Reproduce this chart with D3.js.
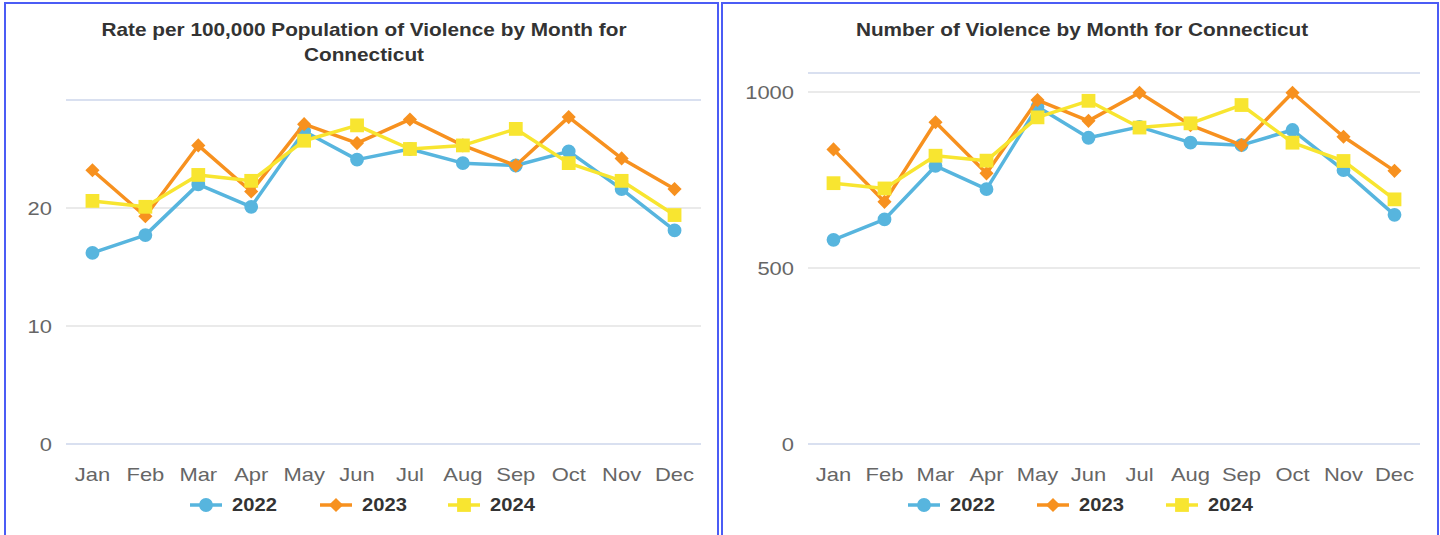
<!DOCTYPE html>
<html lang="en">
<head>
  <meta charset="UTF-8">
  <title>Violence by Month for Connecticut</title>
  <script src="https://d3js.org/d3.v7.min.js"></script>
  <style>
    body {
      margin: 0;
      background: #fff;
      font-family: "Liberation Sans", Arial, sans-serif;
    }
  </style>
</head>
<body>
  <div id="chart"></div>

  <script>
    const months = ["Jan", "Feb", "Mar", "Apr", "May", "Jun", "Jul", "Aug", "Sep", "Oct", "Nov", "Dec"];
    const years = ["2022", "2023", "2024"];

    // rate per 100,000
    const rate2022 = [16.2, 17.7, 22.0, 20.1, 26.5, 24.1, 25.0, 23.8, 23.6, 24.8, 21.6, 18.1];
    const rate2023 = [23.2, 19.3, 25.3, 21.4, 27.1, 25.5, 27.5, 25.3, 23.6, 27.7, 24.2, 21.6];
    const rate2024 = [20.6, 20.1, 22.8, 22.3, 25.7, 27.0, 25.0, 25.3, 26.7, 23.8, 22.3, 19.4];
    const rateTicks = [0, 10, 20];

    // number of incidents
    const count2022 = [580, 638, 790, 724, 958, 870, 901, 856, 849, 892, 778, 651];
    const count2023 = [837, 688, 914, 769, 977, 918, 998, 906, 849, 998, 873, 776];
    const count2024 = [741, 726, 819, 805, 928, 975, 899, 911, 963, 856, 804, 695];
    const countTicks = [0, 500, 1000];

    const colors = ["#57b5de", "#f7911f", "#f8e530"];
    const symbols = [d3.symbolCircle, d3.symbolSquare, d3.symbolSquare];
    const symbolSizes = [150, 100, 190];
    const symbolRot = [0, 45, 0];

    const svg = d3.select("#chart")
                  .append("svg")
                  .attr("width", 1440)
                  .attr("height", 535);

    // the screenshot text is a bit wider than the font, stretch it
    function label(g, x, y, str, size, sx, opts) {
      return g.append("text")
        .attr("transform", `translate(${x},${y}) scale(${sx},1)`)
        .attr("text-anchor", opts.anchor || "start")
        .style("font-size", size + "px")
        .style("font-weight", opts.bold ? "bold" : "normal")
        .style("fill", opts.fill)
        .text(str);
    }

    function drawPanel(p) {
      // panel frame
      svg.append("rect")
         .attr("x", p.frame[0]).attr("y", 3)
         .attr("width", p.frame[1] - p.frame[0]).attr("height", 540)
         .attr("fill", "none")
         .attr("stroke", "#4b5cf5")
         .attr("stroke-width", 2);

      const x = d3.scaleBand()
                  .domain(months)
                  .range([p.left, p.right]);

      const y = d3.scaleLinear()
                  .domain([0, p.yMax])
                  .range([444, p.top]);

      const g = svg.append("g");

      // title
      p.title.forEach((line, i) => {
        label(g, p.titleX, 36 + i * 25, line, 18, 1.155, {anchor: "middle", bold: true, fill: "#333"});
      });

      // grid
      g.selectAll(".grid")
       .data(p.ticks.filter(t => t > 0))
       .enter().append("line")
       .attr("x1", p.left).attr("x2", p.right)
       .attr("y1", d => y(d)).attr("y2", d => y(d))
       .attr("stroke", "#e3e3e3").attr("stroke-width", 1.5);

      g.append("line")
       .attr("x1", p.left).attr("x2", p.right)
       .attr("y1", y(p.yMax)).attr("y2", y(p.yMax))
       .attr("stroke", "#ccd6eb").attr("stroke-width", 1.5);
      g.append("line")
       .attr("x1", p.left).attr("x2", p.right)
       .attr("y1", y(0)).attr("y2", y(0))
       .attr("stroke", "#ccd6eb").attr("stroke-width", 1.5);

      // y labels
      p.ticks.forEach(t => {
        label(g, p.left - 14, y(t) + 7, t, 18, 1.22, {anchor: "end", fill: "#666"});
      });

      // x labels
      months.forEach(m => {
        label(g, x(m) + x.bandwidth() / 2, 481, m, 18, 1.22, {anchor: "middle", fill: "#666"});
      });

      const line = d3.line()
                     .x((d, i) => x(months[i]) + x.bandwidth() / 2)
                     .y(d => y(d));

      p.series.forEach((vals, s) => {
        g.append("path")
         .datum(vals)
         .attr("d", line)
         .attr("fill", "none")
         .attr("stroke", colors[s])
         .attr("stroke-width", 3.5)
         .attr("stroke-linejoin", "round");

        g.selectAll(".pt" + s)
         .data(vals)
         .enter().append("path")
         .attr("d", d3.symbol().type(symbols[s]).size(symbolSizes[s]))
         .attr("transform", (d, i) => `translate(${x(months[i]) + x.bandwidth() / 2},${y(d)}) rotate(${symbolRot[s]})`)
         .attr("fill", colors[s]);
      });

      // legend
      years.forEach((yr, s) => {
        const lx = p.legendX[s];
        g.append("line")
         .attr("x1", lx).attr("x2", lx + 32)
         .attr("y1", 505).attr("y2", 505)
         .attr("stroke", colors[s]).attr("stroke-width", 3.5);
        g.append("path")
         .attr("d", d3.symbol().type(symbols[s]).size(symbolSizes[s]))
         .attr("transform", `translate(${lx + 16},505) rotate(${symbolRot[s]})`)
         .attr("fill", colors[s]);
        label(g, lx + 42, 511, yr, 18, 1.12, {bold: true, fill: "#333"});
      });
    }

    drawPanel({
      frame: [5, 718],
      left: 66, right: 701, top: 100, yMax: 29.15,
      ticks: rateTicks,
      titleX: 364,
      title: ["Rate per 100,000 Population of Violence by Month for", "Connecticut"],
      series: [rate2022, rate2023, rate2024],
      legendX: [190, 320, 448]
    });

    drawPanel({
      frame: [722, 1438],
      left: 808, right: 1420, top: 73, yMax: 1054,
      ticks: countTicks,
      titleX: 1082,
      title: ["Number of Violence by Month for Connecticut"],
      series: [count2022, count2023, count2024],
      legendX: [908, 1037, 1166]
    });
  </script>
</body>
</html>
